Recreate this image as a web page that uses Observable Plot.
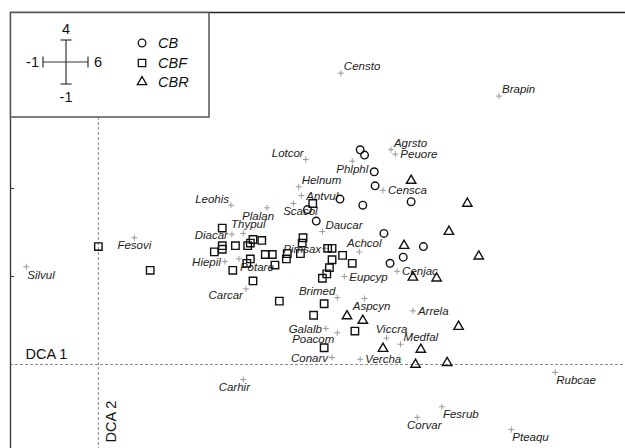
<!DOCTYPE html>
<html><head><meta charset="utf-8">
<script src="https://cdn.jsdelivr.net/npm/d3@7"></script>
<script src="https://cdn.jsdelivr.net/npm/@observablehq/plot@0.6"></script>
<style>body{margin:0;background:#fff}svg{display:block}</style>
</head><body><div id="chart"></div>
<script>
// ---- data (DCA axis 1 = x, DCA axis 2 = y) ----
const speciesNames = ["Censto","Brapin","Agrsto","Peuore","Censca","Lotcor","Phlphl","Helnum","Antvul","Scacol","Leohis","Plalan","Thypul","Diacar","Hiepil","Potare","Carcar","Daucar","Pimsax","Achcol","Eupcyp","Cenjac","Brimed","Aspcyn","Arrela","Galalb","Poacom","Viccra","Medfal","Conarv","Vercha","Fesovi","Silvul","Carhir","Rubcae","Fesrub","Corvar","Pteaqu"];
const speciesX = [2.76,4.56,3.33,3.38,3.24,2.36,2.89,2.28,2.31,2.22,1.51,1.92,1.65,1.52,1.44,1.60,1.68,2.55,2.58,2.97,2.80,3.40,2.72,3.03,3.58,2.59,2.72,3.28,3.44,2.66,2.98,0.41,-0.82,1.65,5.20,3.91,3.63,4.70];
const speciesY = [3.31,3.05,2.44,2.39,1.98,2.33,2.31,2.02,1.92,1.83,1.81,1.78,1.49,1.48,1.17,1.20,0.86,1.51,1.32,1.28,1.00,1.06,0.76,0.75,0.61,0.41,0.36,0.30,0.23,0.08,0.06,1.44,1.11,-0.17,-0.09,-0.48,-0.60,-0.74];
// side of the point on which each species label sits
const labelSide = ["NE","NE","NE","E","E","NW","S","NE","E","SSE","NW","SSW","N","W","W","SE","SW","NE","W","N","E","E","NW","SSE","E","W","SW","N","NE","W","E","S","SE","SSW","SE","SE","SSE","SE"];

const groupNames = ["CB","CBF","CBR"];
const cbX = [2.98,3.03,3.14,3.15,3.56,2.75,3.01,2.38,2.48,3.25,3.70,3.47,3.32];
const cbY = [2.44,2.38,2.19,2.03,1.85,1.88,1.81,1.76,1.63,1.49,1.34,1.22,1.15];
const cbfX = [0.00,0.59,1.41,1.76,1.86,1.73,1.70,1.56,1.41,1.41,1.32,1.90,1.98,2.15,2.14,2.01,1.73,1.69,1.53,1.76,2.33,2.32,2.30,2.44,2.61,2.66,2.66,2.78,2.89,2.63,2.60,2.55,2.06,2.57,2.45,2.57,2.92];
const cbfY = [1.34,1.07,1.55,1.42,1.41,1.38,1.35,1.35,1.35,1.31,1.28,1.25,1.25,1.26,1.20,1.13,1.20,1.15,1.07,0.95,1.44,1.38,1.26,1.83,1.32,1.32,1.19,1.24,1.15,1.10,1.03,0.98,0.72,0.69,0.56,0.19,0.38];
const cbrX = [3.56,4.20,3.99,3.48,4.33,3.58,3.85,4.10,3.67,3.61,3.97,3.24,2.83,3.01];
const cbrY = [2.09,1.83,1.51,1.35,1.23,0.99,0.98,0.43,0.17,0.00,0.02,0.18,0.55,0.50];

const xDomain = [-1, 6];
const yDomain = [-1, 4];
const yTicks = [1, 2, 3];
const axisTitles = ["DCA 1", "DCA 2"];
const scaleLabels = ["4", "-1", "-1", "6"];

// ---- tables ----
const species = speciesNames.map((name, i) => ({name, x: speciesX[i], y: speciesY[i], side: labelSide[i]}));
const pts = (xs, ys) => xs.map((x, i) => ({x, y: ys[i]}));
const cb = pts(cbX, cbY), cbf = pts(cbfX, cbfY), cbr = pts(cbrX, cbrY);

const FONT = "Liberation Sans, Arial, Helvetica, sans-serif";
const placements = {
  NE:  {textAnchor: "start", dx: 3, dy: -6.5},
  E:   {textAnchor: "start", dx: 5, dy: 0.5},
  W:   {textAnchor: "end", dx: -4, dy: 1},
  NW:  {textAnchor: "end", dx: -2, dy: -6},
  SW:  {textAnchor: "end", dx: -3, dy: 6},
  SE:  {textAnchor: "start", dx: 1, dy: 8},
  S:   {textAnchor: "middle", dx: 0, dy: 8},
  SSW: {textAnchor: "middle", dx: -9, dy: 8},
  SSE: {textAnchor: "middle", dx: 7, dy: 8},
  N:   {textAnchor: "middle", dx: 5, dy: -9}
};
const labelMarks = Object.entries(placements).map(([side, o]) =>
  Plot.text(species.filter(d => d.side === side), {
    x: "x", y: "y", text: "name", ...o,
    fontStyle: "italic", fontSize: 11.5, fill: "#222", fontFamily: FONT
  })
);

const chart = Plot.plot({
  width: 625, height: 448,
  marginLeft: 10, marginTop: 12, marginRight: 0, marginBottom: 0,
  style: {fontFamily: FONT, background: "#fff", overflow: "visible"},
  x: {domain: xDomain, axis: null},
  y: {domain: yDomain, range: [452, 12], axis: null},
  marks: [
    Plot.ruleX([0], {stroke: "#8a8a8a", strokeDasharray: "3,2", strokeWidth: 1}),
    Plot.ruleY([0], {stroke: "#8a8a8a", strokeDasharray: "3,2", strokeWidth: 1}),
    Plot.ruleX([xDomain[0]], {stroke: "#333", strokeWidth: 1.3}),
    Plot.ruleY([yDomain[1]], {stroke: "#222", strokeWidth: 1.3}),
    Plot.axisY({ticks: yTicks, tickSize: -4, tickFormat: () => "", stroke: "#333", label: null}),
    Plot.text([axisTitles[0]], {x: xDomain[0], y: 0, text: d => d, textAnchor: "start", dx: 15, dy: -10.5, fontSize: 14.5, fill: "#111"}),
    Plot.text([axisTitles[1]], {x: 0, frameAnchor: "bottom", text: d => d, rotate: -90, textAnchor: "start", dx: 18, dy: -6, fontSize: 14.5, fill: "#111"}),
    Plot.dot(species, {x: "x", y: "y", symbol: "plus", r: 2.1, stroke: "#999", strokeWidth: 1}),
    ...labelMarks,
    Plot.dot(cbf, {x: "x", y: "y", symbol: "square", r: 4.2, stroke: "#111", strokeWidth: 1.4, fill: "none"}),
    Plot.dot(cb, {x: "x", y: "y", symbol: "circle", r: 3.8, stroke: "#111", strokeWidth: 1.4, fill: "none"}),
    Plot.dot(cbr, {x: "x", y: "y", symbol: "triangle", r: 3.5, stroke: "#111", strokeWidth: 1.4, fill: "none"})
  ]
});
document.getElementById("chart").appendChild(chart);

// ---- legend box (drawn on top) ----
const svg = d3.select(chart);
const lg = svg.append("g").attr("font-family", FONT).attr("text-anchor", "start");
lg.append("rect").attr("x", 10.5).attr("y", 12.5).attr("width", 198.5).attr("height", 104.5)
  .attr("fill", "#fff").attr("stroke", "#555").attr("stroke-width", 1.5);
// scale cross
const cx = 66, cy = 62;
const cr = lg.append("g").attr("stroke", "#333").attr("stroke-width", 1.2);
cr.append("line").attr("x1", cx).attr("x2", cx).attr("y1", 40).attr("y2", 84);
cr.append("line").attr("x1", 43).attr("x2", 88).attr("y1", cy).attr("y2", cy);
cr.append("line").attr("x1", cx - 5.5).attr("x2", cx + 5.5).attr("y1", 40).attr("y2", 40);
cr.append("line").attr("x1", cx - 5.5).attr("x2", cx + 5.5).attr("y1", 84).attr("y2", 84);
cr.append("line").attr("x1", 43).attr("x2", 43).attr("y1", cy - 5.5).attr("y2", cy + 5.5);
cr.append("line").attr("x1", 88).attr("x2", 88).attr("y1", cy - 5.5).attr("y2", cy + 5.5);
[[scaleLabels[0], cx, 29, "middle"], [scaleLabels[1], cx, 97, "middle"], [scaleLabels[2], 39, cy, "end"], [scaleLabels[3], 94, cy, "start"]]
  .forEach(([t, x, y, a]) => lg.append("text").attr("x", x).attr("y", y).attr("dy", "0.36em")
    .attr("text-anchor", a).attr("font-size", 14.5).attr("fill", "#111").text(t));
// group symbols
const symTypes = [d3.symbolCircle, d3.symbolSquare, d3.symbolTriangle];
const symR = [3.8, 4.2, 3.5];
const symY = [43, 63, 82];
groupNames.forEach((g, i) => {
  lg.append("path").attr("transform", `translate(142,${symY[i]})`)
    .attr("d", d3.symbol(symTypes[i], Math.PI * symR[i] * symR[i])())
    .attr("fill", "none").attr("stroke", "#111").attr("stroke-width", 1.3);
  lg.append("text").attr("x", 158).attr("y", symY[i]).attr("dy", "0.36em")
    .attr("text-anchor", "start")
    .attr("font-size", 14.5).attr("font-style", "italic").attr("fill", "#111").text(g);
});
</script>
</body></html>
